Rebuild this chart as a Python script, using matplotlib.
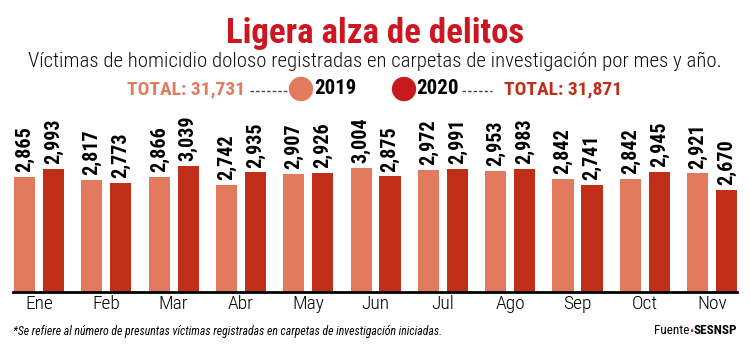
import numpy as np
import matplotlib
matplotlib.use("Agg")
import matplotlib.pyplot as plt
from matplotlib.patches import Ellipse
from matplotlib.lines import Line2D

plt.rcParams['font.family'] = ['Roboto Condensed', 'DejaVu Sans']

# datos
months = ['Ene', 'Feb', 'Mar', 'Abr', 'May', 'Jun', 'Jul', 'Ago', 'Sep', 'Oct', 'Nov']
v2019 = [2865, 2817, 2866, 2742, 2907, 3004, 2972, 2953, 2842, 2842, 2921]
v2020 = [2993, 2773, 3039, 2935, 2926, 2875, 2991, 2983, 2741, 2945, 2670]
total_2019 = "31,731"
total_2020 = "31,871"

c19 = '#E27B5E'
c20 = '#BF2F17'
c_title = '#CE1620'

fig = plt.figure(figsize=(7.5, 3.57), dpi=100)
ax = fig.add_axes([13 / 750, 1 - 292 / 357, (737 - 13) / 750, 182 / 357])

x = np.arange(len(months))
off = 0.215
w = 0.315
b1 = ax.bar(x - off, v2019, w, color=c19, zorder=2)
b2 = ax.bar(x + off, v2020, w, color=c20, zorder=2)

for bars, vals in ((b1, v2019), (b2, v2020)):
    for rect, v in zip(bars, vals):
        ax.annotate(f"{v:,}", (rect.get_x() + rect.get_width() / 2, v),
                    xytext=(0, 3.5), textcoords='offset points',
                    rotation=90, ha='center', va='bottom',
                    fontsize=14.5, fontweight='bold', color='black')

ax.set_ylim(1096, 3896)
ax.set_xlim(-0.387, 10.37)
ax.set_xticks(x)
ax.set_xticklabels(months, fontsize=14, fontweight='light')
ax.tick_params(axis='x', length=0, pad=2)
ax.set_yticks([])
for s in ['top', 'right', 'left']:
    ax.spines[s].set_visible(False)
ax.spines['bottom'].set_linewidth(2)
ax.spines['bottom'].set_zorder(3)

# titulos
fig.text(0.5, 1 - 33 / 357, "Ligera alza de delitos", ha='center', va='center',
         fontsize=25, fontweight='bold', color=c_title)
fig.text(0.5, 1 - 61 / 357,
         "Víctimas de homicidio doloso registradas en carpetas de investigación por mes y año.",
         ha='center', va='center', fontsize=15, fontweight='light', color='#111111')

# leyenda
ly = 1 - 89 / 357
fig.text(127 / 750, ly, f"TOTAL: {total_2019}", ha='left', va='center',
         fontsize=14, fontweight='bold', color=c19)
fig.add_artist(Line2D([250 / 750, 289 / 750], [ly - 0.006, ly - 0.006], color='#444444',
                      lw=1, linestyle=(0, (2.5, 1.5))))
fig.add_artist(Ellipse((301 / 750, ly), 23 / 750, 23 / 357, color=c19))
fig.text(314 / 750, ly, "2019", ha='left', va='center', fontsize=15, fontweight='bold')
fig.add_artist(Ellipse((404 / 750, ly), 23 / 750, 23 / 357, color='#C8191F'))
fig.text(416 / 750, ly, "2020", ha='left', va='center', fontsize=15, fontweight='bold')
fig.add_artist(Line2D([462 / 750, 492 / 750], [ly - 0.006, ly - 0.006], color='#444444',
                      lw=1, linestyle=(0, (2.5, 1.5))))
fig.text(622 / 750, ly, f"TOTAL: {total_2020}", ha='right', va='center',
         fontsize=14, fontweight='bold', color=c20)

# notas
fig.text(13 / 750, 1 - 331 / 357,
         "*Se refiere al número de presuntas víctimas registradas en carpetas de investigación iniciadas.",
         ha='left', va='center', fontsize=8.5, style='italic')
t = fig.text(737 / 750, 1 - 331 / 357, "SESNSP", ha='right', va='center',
             fontsize=9.5, fontweight='bold')
fig.canvas.draw()
bb = t.get_window_extent()
dot = fig.text(bb.x0 / 750, 1 - 331 / 357, "•", ha='right', va='center',
               fontsize=9.5, color=c_title)
fig.canvas.draw()
bb2 = dot.get_window_extent()
fig.text(bb2.x0 / 750, 1 - 331 / 357, "Fuente", ha='right', va='center', fontsize=9.5)

fig.savefig('out.png', dpi=100)
